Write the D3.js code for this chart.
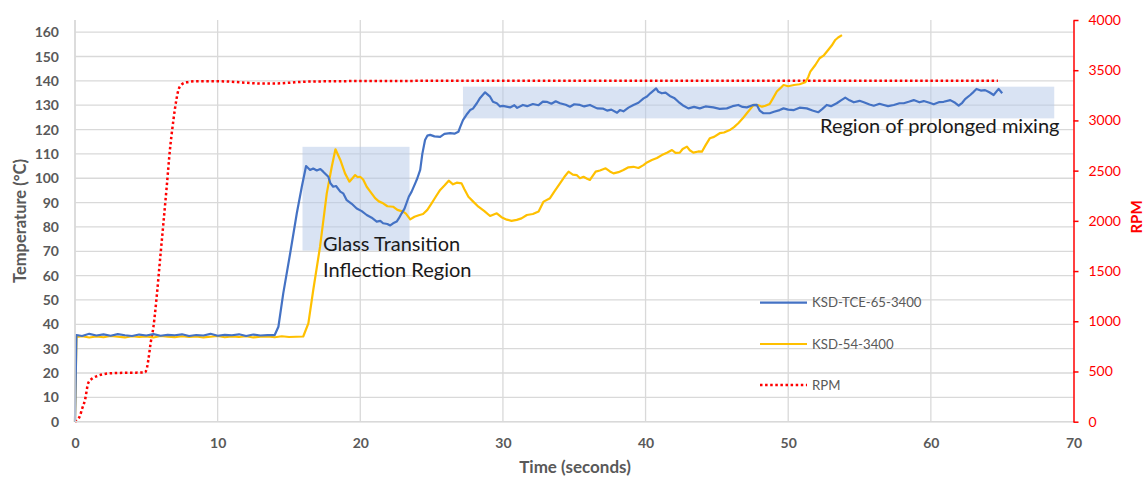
<!DOCTYPE html>
<html>
<head>
<meta charset="utf-8">
<script src="https://cdn.jsdelivr.net/npm/d3@7/dist/d3.min.js"></script>
<style>
html,body{margin:0;padding:0;background:#fff;}
svg{display:block;font-family:Lato,"Open Sans",sans-serif;}
</style>
</head>
<body>
<svg id="chart" width="1145" height="478"></svg>
<script>
// ---------- DATA ----------
const timeTicks = [0,10,20,30,40,50,60,70];
const tempTicks = [0,10,20,30,40,50,60,70,80,90,100,110,120,130,140,150,160];
const rpmTicks = [0,500,1000,1500,2000,2500,3000,3500,4000];

const seriesNames = ["KSD-TCE-65-3400","KSD-54-3400","RPM"];

// KSD-TCE-65-3400 : [time s, temperature °C]
const tceSeries = [
[0,0],[0.1,35.6],[0.5,35.2],[1.0,36.1],[1.5,35.4],[2.0,35.9],[2.5,35.3],[3.0,36.0],[3.5,35.5],[4.0,35.2],
[4.5,35.8],[5.0,35.4],[5.5,36.0],[6.0,35.3],[6.5,35.7],[7.0,35.5],[7.5,35.9],[8.0,35.2],[8.5,35.6],[9.0,35.4],
[9.5,36.1],[10.0,35.3],[10.5,35.7],[11.0,35.5],[11.5,35.9],[12.0,35.2],[12.5,35.8],[13.0,35.4],[13.5,35.6],[14.0,35.6],
[14.26,39],[14.6,52.7],[15.08,69],[15.55,85.6],[15.9,96.5],[16.2,105],[16.48,103.4],[16.7,104],[16.95,103.2],[17.2,103.8],
[17.4,102.7],[17.76,100.6],[17.9,98],[18.1,96.5],[18.3,96.8],[18.6,94.5],[18.8,93.8],[19.05,91],[19.4,89.5],[19.75,87.6],
[20.1,86.5],[20.45,84.9],[20.8,83.8],[21.15,82.2],[21.4,82.5],[21.6,81.5],[21.9,81.2],[22.1,80.6],[22.3,81.5],[22.55,82.2],
[22.7,83.5],[22.9,85.6],[23.1,87.5],[23.4,92.4],[23.6,94.5],[23.85,97.9],[24.0,100],[24.2,103.4],[24.35,110],[24.54,115.7],
[24.7,117.5],[24.9,117.8],[25.2,117.2],[25.6,117],[25.9,118.2],[26.3,118.5],[26.6,118.3],[26.88,119.1],[27.0,121],[27.2,123.9],
[27.5,126.5],[27.7,128],[27.9,128.6],[28.17,130.8],[28.4,133],[28.75,135.3],[29.1,133.5],[29.3,131.4],[29.57,130.8],[29.8,129.5],
[30.0,129.7],[30.5,129.1],[30.8,130],[31.0,128.9],[31.4,130.1],[31.7,129.6],[32.1,130.5],[32.5,130],[32.8,131.5],[33.07,131.4],
[33.4,130.6],[33.7,131.6],[34.0,130.8],[34.4,130.2],[34.7,129.4],[35.0,130.4],[35.4,130.1],[35.7,129.5],[36.1,130.1],[36.6,128.7],
[37.0,128.6],[37.3,127.8],[37.6,128.2],[38.0,126.9],[38.2,128],[38.45,127.5],[38.8,129],[39.15,130.1],[39.5,131],[39.86,132.8],
[40.1,133.6],[40.33,134.9],[40.74,136.9],[40.9,135.5],[41.14,134.9],[41.4,135.2],[41.7,133.8],[42.0,133],[42.3,131.4],[42.6,130],
[43.0,128.7],[43.4,129.3],[43.8,128.7],[44.2,129.5],[44.75,129.1],[45.2,128.5],[45.7,128.7],[46.1,129.6],[46.5,130.1],[46.8,129.3],
[47.1,129.1],[47.5,130],[47.8,130.1],[48.0,127.8],[48.26,126.7],[48.7,126.7],[49.0,127.3],[49.4,128],[49.67,128.7],[50.0,128.2],
[50.4,128],[50.8,129],[51.3,128.7],[51.7,127.8],[52.1,127.1],[52.4,128.5],[52.7,130.1],[53.0,129.6],[53.4,130.8],[53.7,132],
[54.0,133.1],[54.3,132],[54.6,131.2],[55.0,131.8],[55.3,131.2],[55.7,130.3],[56.0,129.8],[56.4,130.6],[56.7,130.1],[57.0,129.6],
[57.4,130.1],[57.8,130.8],[58.1,130.8],[58.5,131.5],[58.8,132.1],[59.2,131.2],[59.5,131.7],[59.9,131],[60.2,130.4],[60.6,131.3],
[60.9,131.4],[61.36,132.1],[61.7,131],[61.95,129.8],[62.2,131],[62.4,132.5],[62.76,134.2],[63.0,135.5],[63.2,136.7],[63.5,136],
[63.8,136.2],[64.1,135.3],[64.4,134.2],[64.75,136.7],[65.0,134.9]
];

// KSD-54-3400 : [time s, temperature °C]
const ksdSeries = [
[0,0],[0.1,34.8],[0.5,35.1],[1.0,34.6],[1.5,35.0],[2.0,34.7],[2.5,35.2],[3.0,34.9],[3.5,34.6],[4.0,35.1],
[4.5,34.8],[5.0,35.0],[5.5,34.6],[6.0,35.2],[6.5,34.9],[7.0,34.7],[7.5,35.1],[8.0,34.8],[8.5,35.0],[9.0,34.6],
[9.5,34.9],[10.0,35.2],[10.5,34.7],[11.0,35.0],[11.5,34.8],[12.0,35.1],[12.5,34.6],[13.0,34.9],[13.5,35.0],[14.0,34.7],
[14.5,35.1],[15.0,34.8],[15.5,34.9],[16.0,35.0],
[16.36,40.4],[16.7,54],[17.18,71.9],[17.65,93.8],[18.0,104.7],[18.26,111.9],[18.6,107.5],[18.93,102],[19.24,98.6],[19.45,100],
[19.64,101.3],[19.8,100.5],[19.99,100.6],[20.2,99.5],[20.45,96.5],[20.7,94.5],[21.04,91.8],[21.3,90.5],[21.6,89.7],[21.9,88.5],
[22.3,88.3],[22.6,87],[23.0,86.3],[23.2,85.5],[23.5,83.1],[23.8,84.2],[24.1,84.8],[24.4,85.3],[24.7,87],[25.0,89.7],
[25.3,92.5],[25.6,95.2],[25.9,97],[26.2,99],[26.5,97.5],[26.76,98.2],[27.1,97.9],[27.3,95.5],[27.58,92.4],[27.9,90.5],
[28.28,88.3],[28.7,86.5],[29.1,84.5],[29.57,85.6],[29.9,84],[30.27,83],[30.6,82.5],[30.97,82.9],[31.3,83.5],[31.68,84.9],
[32.1,85.3],[32.5,86.3],[32.85,90.4],[33.3,91.8],[33.6,94.5],[34.0,97.9],[34.3,100.5],[34.6,102.7],[34.9,101.5],[35.17,101.3],
[35.4,100],[35.65,100.6],[35.9,99.8],[36.1,99.3],[36.5,102.7],[36.8,103.2],[37.2,104.1],[37.5,102.8],[37.75,102],[38.1,102.5],
[38.45,103.4],[38.8,104.5],[39.15,104.7],[39.5,104.2],[39.85,105.4],[40.1,106.5],[40.44,107.5],[40.8,108.3],[41.14,109.5],[41.5,110.5],
[41.85,111.6],[42.1,110.4],[42.4,110.5],[42.6,112],[42.9,113],[43.1,111.5],[43.35,110.5],[43.7,111],[43.95,110.9],[44.2,113.5],
[44.5,116.4],[44.8,117],[45.2,118.5],[45.5,118.8],[45.9,119.8],[46.2,121],[46.5,122.6],[46.8,124.5],[47.1,126.7],[47.35,128.5],
[47.57,130.1],[47.9,130],[48.16,129.4],[48.4,129.8],[48.7,130.5],[48.95,133],[49.2,135.6],[49.45,137],[49.67,138.3],[50.0,137.8],
[50.4,138.3],[50.8,138.6],[51.2,139.4],[51.4,141.5],[51.55,143.8],[51.9,146.5],[52.2,149.3],[52.5,150.5],[52.8,152.7],[53.05,154.5],
[53.3,156.8],[53.5,157.8],[53.77,158.8]
];

// RPM : [time s, rpm]
const rpmSeries = [
[0,0],[0.2,20],[0.35,60],[0.5,130],[0.7,216],[0.93,385],[1.2,430],[1.5,452],[1.9,470],[2.45,482],
[3.5,487],[4.5,489],[4.9,490],[5.05,540],[5.14,614],[5.3,780],[5.5,946],[5.75,1280],[5.96,1610],[6.2,1980],
[6.43,2340],[6.65,2700],[6.9,3004],[7.1,3200],[7.25,3303],[7.5,3360],[7.84,3380],[8.5,3390],[10,3390],[11,3385],
[12,3375],[13,3368],[14,3368],[15,3375],[16,3385],[18,3390],[20,3392],[30,3395],[40,3395],[50,3395],[60,3395],[64.7,3395]
];

// ---------- LAYOUT ----------
const svg = d3.select("#chart");
const X0 = 75, X1 = 1073.5, Y0 = 421.7, Y1 = 20;
const x = d3.scaleLinear().domain([0,70]).range([X0,X1]);
const y = d3.scaleLinear().domain([0,165]).range([Y0,Y1]);
const yR = d3.scaleLinear().domain([0,4000]).range([Y0,Y1]);

const gridColor = "#d9d9d9";
const txtGray = "#595959";

// gridlines
const grid = svg.append("g");
grid.selectAll("line.h").data(tempTicks).join("line")
  .attr("x1",X0).attr("x2",X1).attr("y1",d=>y(d)).attr("y2",d=>y(d))
  .attr("stroke",gridColor).attr("stroke-width",1.3);
grid.selectAll("line.v").data(timeTicks.slice(0,7)).join("line")
  .attr("x1",d=>x(d)).attr("x2",d=>x(d)).attr("y1",Y1).attr("y2",Y0)
  .attr("stroke",gridColor).attr("stroke-width",1.3);

// annotation regions (data units)
const regions = [
  {t0:15.95,t1:23.45,v0:70.3,v1:112.9},
  {t0:27.2,t1:68.65,v0:124.6,v1:137.6}
];
svg.append("g").selectAll("rect").data(regions).join("rect")
  .attr("x",d=>x(d.t0)).attr("width",d=>x(d.t1)-x(d.t0))
  .attr("y",d=>y(d.v1)).attr("height",d=>y(d.v0)-y(d.v1))
  .attr("fill","#b4c7e7").attr("fill-opacity",0.5);

// lines
const lineL = d3.line().x(d=>x(d[0])).y(d=>y(d[1]));
const lineR = d3.line().x(d=>x(d[0])).y(d=>yR(d[1])).curve(d3.curveMonotoneX);

svg.append("path").datum(rpmSeries).attr("d",lineR)
  .attr("fill","none").attr("stroke","#ff0000").attr("stroke-width",2.5)
  .attr("stroke-dasharray","2.5,2.6");
svg.append("path").datum(ksdSeries).attr("d",lineL)
  .attr("fill","none").attr("stroke","#ffc000").attr("stroke-width",2.2).attr("stroke-linejoin","round");
svg.append("path").datum(tceSeries).attr("d",lineL)
  .attr("fill","none").attr("stroke","#4472c4").attr("stroke-width",2.2).attr("stroke-linejoin","round");

// axes
const axL = svg.append("g").attr("transform",`translate(${X0},0)`)
  .call(d3.axisLeft(y).tickValues(tempTicks).tickSize(0).tickPadding(16));
axL.select(".domain").remove();
axL.selectAll("text").attr("fill",txtGray).attr("font-size",14).attr("font-weight","bold")
  .attr("font-family","Lato");

svg.append("line").attr("x1",X0).attr("x2",X0).attr("y1",Y1).attr("y2",Y0)
  .attr("stroke",gridColor).attr("stroke-width",1.5);
svg.append("line").attr("x1",X0).attr("x2",X1).attr("y1",Y0).attr("y2",Y0)
  .attr("stroke",gridColor).attr("stroke-width",1.5);

const axB = svg.append("g").attr("transform",`translate(0,${Y0})`)
  .call(d3.axisBottom(x).tickValues(timeTicks).tickSize(0).tickPadding(16));
axB.select(".domain").remove();
axB.selectAll("text").attr("fill",txtGray).attr("font-size",14).attr("font-weight","bold")
  .attr("font-family","Lato");

const axR = svg.append("g").attr("transform",`translate(${X1},0)`)
  .call(d3.axisRight(yR).tickValues(rpmTicks).tickFormat(d3.format("d"))
    .tickSize(5).tickSizeOuter(0).tickPadding(10));
axR.select(".domain").attr("stroke","#ff0000").attr("stroke-width",1.5);
axR.selectAll(".tick line").attr("stroke","#ff0000").attr("stroke-width",1.5);
axR.selectAll("text").attr("fill","#ff0000").attr("font-size",14).attr("font-family","Lato");

// axis titles
svg.append("text").attr("transform","translate(26,221) rotate(-90)")
  .attr("text-anchor","middle").attr("fill",txtGray).attr("font-size",16.5).attr("font-weight","bold")
  .text("Temperature (°C)");
svg.append("text").attr("x",575).attr("y",473)
  .attr("text-anchor","middle").attr("fill",txtGray).attr("font-size",17).attr("font-weight","bold")
  .text("Time (seconds)");
svg.append("text").attr("transform","translate(1142,217) rotate(-90)")
  .attr("text-anchor","middle").attr("fill","#ff0000").attr("font-size",15).attr("font-weight","bold")
  .text("RPM");

// annotations text
const ann = svg.append("g").attr("fill","#1a1a1a").attr("font-size",20);
ann.append("text").attr("x",323).attr("y",251).text("Glass Transition");
ann.append("text").attr("x",323).attr("y",277).text("Inflection Region");
ann.append("text").attr("x",820).attr("y",133).text("Region of prolonged mixing");

// legend
const legend = [
  {name:seriesNames[0],color:"#4472c4",dash:null,yy:302.7},
  {name:seriesNames[1],color:"#ffc000",dash:null,yy:344},
  {name:seriesNames[2],color:"#ff0000",dash:"2.5,2.6",yy:385}
];
const lg = svg.append("g");
legend.forEach(l=>{
  lg.append("line").attr("x1",760).attr("x2",807).attr("y1",l.yy).attr("y2",l.yy)
    .attr("stroke",l.color).attr("stroke-width",l.dash?2.5:2.2).attr("stroke-dasharray",l.dash);
  lg.append("text").attr("x",812).attr("y",l.yy).attr("dy","0.35em")
    .attr("fill",txtGray).attr("font-size",13.2).text(l.name);
});
</script>
</body>
</html>
